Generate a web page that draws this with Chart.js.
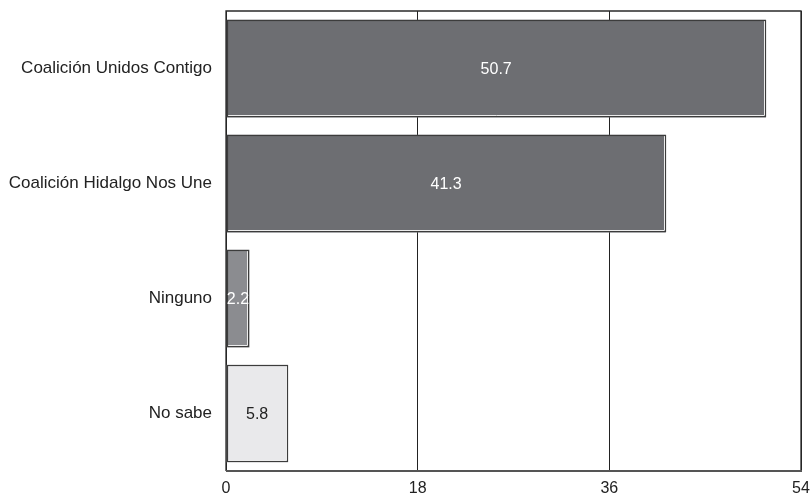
<!DOCTYPE html>
<html>
<head>
<meta charset="utf-8">
<script src="https://cdn.jsdelivr.net/npm/chart.js@4/dist/chart.umd.min.js"></script>
<style>
  html, body { margin: 0; padding: 0; background: #fff; }
  #wrap { width: 812px; height: 497px; position: relative; }
</style>
</head>
<body>
<div id="wrap"><canvas id="chart"></canvas></div>
<script>
const categories = ["Coalición Unidos Contigo", "Coalición Hidalgo Nos Une", "Ninguno", "No sabe"];
const values = [50.7, 41.3, 2.2, 5.8];
const barColors = ["#6d6e72", "#6d6e72", "#8b8c90", "#e9e9eb"];
const labelColors = ["#ffffff", "#ffffff", "#ffffff", "#222222"];
const xTicks = [0, 18, 36, 54];

const FONT = "'Liberation Sans', Arial, Helvetica, sans-serif";

// outline: white inner line on right/bottom, dark outer line
const barOutline = {
  id: 'barOutline',
  afterDatasetsDraw(chart){
    const ctx = chart.ctx;
    const meta = chart.getDatasetMeta(0);
    meta.data.forEach((bar, i) => {
      const p = bar.getProps(['x', 'y', 'base', 'height'], true);
      const left = Math.round(p.base), right = Math.round(p.x);
      const top = Math.round(p.y - p.height / 2), bottom = Math.round(p.y + p.height / 2);
      ctx.save();
      ctx.strokeStyle = '#ffffff';
      ctx.lineWidth = 1;
      ctx.beginPath();
      ctx.moveTo(right - 1.5, top + 1);
      ctx.lineTo(right - 1.5, bottom - 1.5);
      ctx.lineTo(left + 1, bottom - 1.5);
      ctx.stroke();
      ctx.strokeStyle = '#3c3c3c';
      ctx.lineWidth = 1.2;
      ctx.strokeRect(left + 0.5, top + 0.5, right - left - 1, bottom - top - 1);
      ctx.restore();
    });
  }
};

const valueLabels = {
  id: 'valueLabels',
  afterDatasetsDraw(chart){
    const ctx = chart.ctx;
    const meta = chart.getDatasetMeta(0);
    ctx.save();
    ctx.font = "16px " + FONT;
    ctx.textAlign = 'center';
    ctx.textBaseline = 'middle';
    meta.data.forEach((bar, i) => {
      const p = bar.getProps(['x', 'y', 'base'], true);
      ctx.fillStyle = labelColors[i];
      ctx.fillText(values[i].toFixed(1), (p.x + p.base) / 2, p.y + 1);
    });
    ctx.restore();
  }
};

const frame = {
  id: 'frame',
  afterDraw(chart){
    const a = chart.chartArea;
    const ctx = chart.ctx;
    ctx.save();
    ctx.strokeStyle = '#2a2a2a';
    ctx.lineWidth = 1.3;
    ctx.beginPath();
    ctx.moveTo(a.left, a.bottom);
    ctx.lineTo(a.left, a.top);
    ctx.lineTo(a.right, a.top);
    ctx.lineTo(a.right, a.bottom);
    ctx.stroke();
    ctx.strokeStyle = '#555';
    ctx.lineWidth = 2;
    ctx.beginPath();
    ctx.moveTo(a.left, a.bottom);
    ctx.lineTo(a.right + 1, a.bottom);
    ctx.stroke();
    ctx.restore();
  }
};

new Chart(document.getElementById('chart'), {
  type: 'bar',
  data: {
    labels: categories,
    datasets: [{
      data: values,
      backgroundColor: barColors,
      borderWidth: 0,
      barPercentage: 0.85,
      categoryPercentage: 1
    }]
  },
  options: {
    indexAxis: 'y',
    responsive: true,
    maintainAspectRatio: false,
    animation: false,
    layout: { padding: { top: 11, right: 11, left: 0, bottom: 0 } },
    plugins: { legend: { display: false }, tooltip: { enabled: false } },
    scales: {
      x: {
        min: 0, max: 54,
        afterBuildTicks: (s) => { s.ticks = xTicks.map(v => ({ value: v })); },
        afterFit: (s) => { s.height = 26; s.paddingLeft = 0; s.paddingRight = 0; },
        grid: { color: '#222', lineWidth: 1, drawTicks: false },
        border: { display: false },
        ticks: { color: '#222', font: { size: 16, family: FONT }, padding: 8, maxRotation: 0 }
      },
      y: {
        afterFit: (s) => { s.width = 226; s.paddingTop = 0; s.paddingBottom = 0; },
        grid: { display: false, drawTicks: false },
        border: { display: false },
        ticks: { color: '#222', font: { size: 17, family: FONT }, padding: 14 }
      }
    }
  },
  plugins: [barOutline, valueLabels, frame]
});
</script>
</body>
</html>
